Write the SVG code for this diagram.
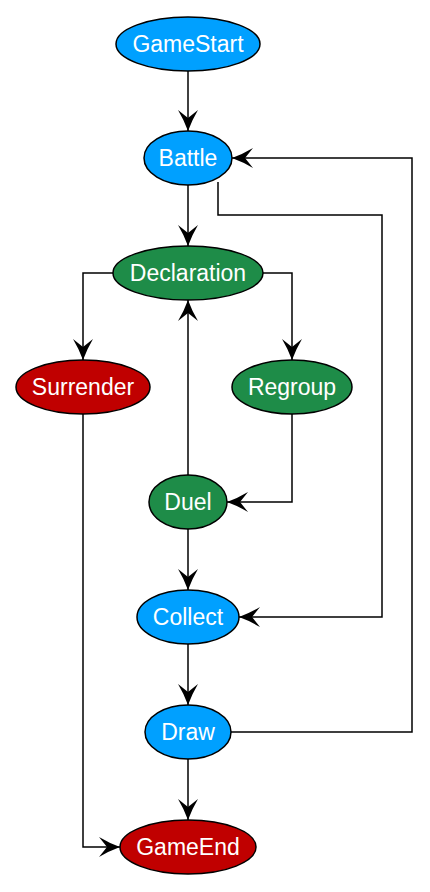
<svg xmlns="http://www.w3.org/2000/svg" width="430" height="892" viewBox="0 0 430 892">
<defs>
<marker id="ah" markerUnits="userSpaceOnUse" markerWidth="22" markerHeight="20" refX="21" refY="10" orient="auto" viewBox="0 0 22 20">
<path d="M0,0 Q10,6 21,10 Q10,14 0,20 L8,10 z" fill="#000"/>
</marker>
<style>
.n ellipse{stroke:#000;stroke-width:1.5}
.b{fill:#00A0FF}.g{fill:#1E8C48}.r{fill:#C00000}
.n text{font-family:"Liberation Sans",Arial,sans-serif;font-size:23px;fill:#fff;text-anchor:middle;dominant-baseline:central}
#edges path{fill:none;stroke:#000;stroke-width:1.5;marker-end:url(#ah)}
</style>
</defs>
<rect width="430" height="892" fill="#fff"/>
<g id="edges">
<path d="M188,71 V131"/>
<path d="M188,185 V246"/>
<path d="M218,182 V215 H382 V617 H239"/>
<path d="M231,732 H412 V158 H232"/>
<path d="M113,273 H83 V360"/>
<path d="M263,273 H292 V360"/>
<path d="M188,475 V300"/>
<path d="M292,414 V502 H227"/>
<path d="M188,529 V590"/>
<path d="M188,644 V705"/>
<path d="M188,759 V820"/>
<path d="M83,414 V847 H120"/>
</g>
<g id="GameStart" class="n"><ellipse class="b" cx="188" cy="44" rx="72" ry="27"/><text x="188" y="44">GameStart</text></g>
<g id="Battle" class="n"><ellipse class="b" cx="188" cy="158" rx="44" ry="27"/><text x="188" y="158">Battle</text></g>
<g id="Declaration" class="n"><ellipse class="g" cx="188" cy="273" rx="75" ry="27"/><text x="188" y="273">Declaration</text></g>
<g id="Surrender" class="n"><ellipse class="r" cx="83" cy="387" rx="67" ry="27"/><text x="83" y="387">Surrender</text></g>
<g id="Regroup" class="n"><ellipse class="g" cx="292" cy="387" rx="60" ry="27"/><text x="292" y="387">Regroup</text></g>
<g id="Duel" class="n"><ellipse class="g" cx="188" cy="502" rx="39" ry="27"/><text x="188" y="502">Duel</text></g>
<g id="Collect" class="n"><ellipse class="b" cx="188" cy="617" rx="51" ry="27"/><text x="188" y="617">Collect</text></g>
<g id="Draw" class="n"><ellipse class="b" cx="188" cy="732" rx="43" ry="27"/><text x="188" y="732">Draw</text></g>
<g id="GameEnd" class="n"><ellipse class="r" cx="188" cy="847" rx="68" ry="27"/><text x="188" y="847">GameEnd</text></g>
</svg>
